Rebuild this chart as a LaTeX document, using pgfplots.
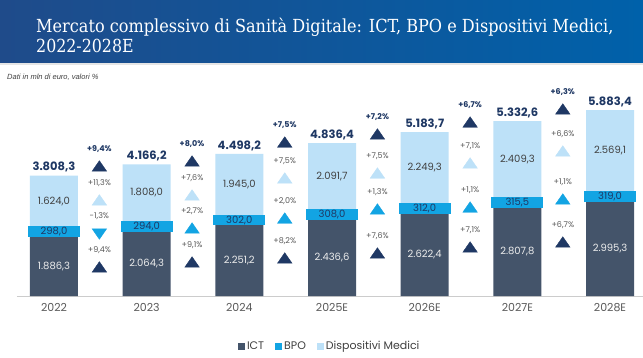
\documentclass[border=0pt]{standalone}
\usepackage{fontspec}
\setmainfont{Poppins}
\newfontfamily\slab{DejaVu Serif}
\newfontfamily\arial{Liberation Sans}
\usepackage{pgfplots}
\pgfplotsset{compat=1.18}
\definecolor{ict}{HTML}{44546A}
\definecolor{bpo}{HTML}{12A4E3}
\definecolor{dm}{HTML}{BDE1F8}
\definecolor{navy}{HTML}{1F3864}
\definecolor{hdrL}{HTML}{1F4B8A}
\definecolor{hdrR}{HTML}{0061AA}
\definecolor{tickgray}{HTML}{595959}
\definecolor{labgray}{HTML}{404040}
\begin{document}
\begin{tikzpicture}[x=1pt,y=1pt]
\path[use as bounding box, fill=white] (0,0) rectangle (643,357);
\shade[left color=hdrL, right color=hdrR] (0,294) rectangle (643,357);
\fill[gray!20] (0,292) rectangle (643,294);
\node[anchor=base west, text=white, inner sep=0] at (36,324) {\slab\fontsize{18}{20}\selectfont\scalebox{0.895}[1]{Mercato complessivo di Sanità Digitale: ICT, BPO e Dispositivi Medici,}};
\node[anchor=base west, text=white, inner sep=0] at (36,304) {\slab\fontsize{18}{20}\selectfont\scalebox{0.88}[1]{2022-2028E}};
\node[anchor=base west, text=labgray, inner sep=0] at (7,277) {\arial\itshape\fontsize{7.5}{9}\selectfont Dati in mln di euro, valori \%};

\begin{axis}[at={(16.9pt,61pt)}, anchor=south west, scale only axis,
  width=625.6pt, height=205.4pt, xmin=-0.4, xmax=6.35, ymin=0, ymax=6500,
  ybar stacked, bar width=48pt,
  axis x line=bottom, axis y line=none, x axis line style={-, draw=black!20},
  xtick={0,...,6}, xticklabels={2022,2023,2024,2025E,2026E,2027E,2028E},
  ytick=\empty, major tick length=0pt,
  xticklabel style={font=\fontsize{11}{12}\selectfont, text=tickgray, yshift=-4pt},
  clip=false,
  legend style={at={(0.5,-0.245)}, anchor=center, draw=none, fill=none,
    font=\fontsize{11}{12}\selectfont, text=labgray, legend columns=-1,
    /tikz/every even column/.append style={column sep=9pt}},
  legend image code/.code={\path[#1] (0pt,-3.5pt) rectangle (7pt,3.5pt);},
]
\addplot[fill=ict, draw=none] coordinates {(0,1886.3) (1,2064.3) (2,2251.2) (3,2436.6) (4,2622.4) (5,2807.8) (6,2995.3)};
\addplot[fill=bpo, draw=none] coordinates {(0,298.0) (1,294.0) (2,302.0) (3,308.0) (4,312.0) (5,315.5) (6,319.0)};
\addplot[fill=dm, draw=none] coordinates {(0,1624.0) (1,1808.0) (2,1945.0) (3,2091.7) (4,2249.3) (5,2409.3) (6,2569.1)};
\legend{ICT,BPO,Dispositivi Medici}
\end{axis}

\begin{axis}[at={(16.9pt,61pt)}, anchor=south west, scale only axis,
  width=625.6pt, height=205.4pt, xmin=-0.4, xmax=6.35, ymin=0, ymax=6500,
  hide axis, clip=false, point meta=explicit symbolic, nodes near coords]
% segment labels
\addplot[draw=none, mark=none, nodes near coords style={anchor=center, inner sep=0pt, text=white!93!black, font=\fontsize{10}{11}\selectfont}]
 coordinates {(0,943.15)[1.886,3] (1,1032.15)[2.064,3] (2,1125.6)[2.251,2] (3,1218.3)[2.436,6] (4,1311.2)[2.622,4] (5,1403.9)[2.807,8] (6,1497.65)[2.995,3]};
\addplot[draw=none, mark=none, nodes near coords style={anchor=center, fill=bpo, inner xsep=0pt, inner ysep=1pt, minimum width=52pt, text=navy, font=\fontsize{10}{11}\selectfont}]
 coordinates {(0,2035.3)[298,0] (1,2211.3)[294,0] (2,2402.2)[302,0] (3,2590.6)[308,0] (4,2778.4)[312,0] (5,2965.55)[315,5] (6,3154.8)[319,0]};
\addplot[draw=none, mark=none, nodes near coords style={anchor=center, inner sep=0pt, text=labgray, font=\fontsize{10}{11}\selectfont}]
 coordinates {(0,2996.3)[1.624,0] (1,3262.3)[1.808,0] (2,3525.7)[1.945,0] (3,3790.45)[2.091,7] (4,4059.05)[2.249,3] (5,4327.95)[2.409,3] (6,4598.85)[2.569,1]};
% totals
\addplot[draw=none, mark=none, nodes near coords style={anchor=south, inner sep=0pt, yshift=3pt, text=navy, font=\bfseries\fontsize{11.5}{12}\selectfont}]
 coordinates {(0,3808.3)[3.808,3] (1,4166.2)[4.166,2] (2,4498.2)[4.498,2] (3,4836.4)[4.836,4] (4,5183.7)[5.183,7] (5,5532.6)[5.332,6] (6,5883.4)[5.883,4]};
% growth triangles
\addplot[only marks, mark=triangle*, mark size=7pt, mark options={xscale=1.2}, color=navy, nodes near coords style={anchor=south, inner sep=0pt, yshift=15pt, text=navy, font=\bfseries\fontsize{8}{9}\selectfont}]
 coordinates {(0.49,4060)[+9,4\%] (1.49,4217)[+8,0\%] (2.49,4818)[+7,5\%] (3.49,5072)[+7,2\%] (4.49,5451)[+6,7\%] (5.49,5863)[+6,3\%]};
\addplot[only marks, mark=triangle*, mark size=7pt, mark options={xscale=1.2}, color=dm, nodes near coords style={anchor=south, inner sep=0pt, yshift=15pt, text=tickgray, font=\fontsize{8}{9}\selectfont}]
 coordinates {(0.49,2985)[+11,3\%] (1.49,3141)[+7,6\%] (2.49,3679)[+7,5\%] (3.49,3837)[+7,5\%] (4.49,4154)[+7,1\%] (5.49,4534)[+6,6\%]};
\addplot[only marks, mark=triangle*, mark size=7pt, mark options={xscale=1.2, rotate=180}, color=bpo, nodes near coords style={anchor=south, inner sep=0pt, yshift=12pt, text=tickgray, font=\fontsize{8}{9}\selectfont}]
 coordinates {(0.49,2017)[-1,3\%]};
\addplot[only marks, mark=triangle*, mark size=7pt, mark options={xscale=1.2}, color=bpo, nodes near coords style={anchor=south, inner sep=0pt, yshift=15pt, text=tickgray, font=\fontsize{8}{9}\selectfont}]
 coordinates {(1.49,2097)[+2,7\%] (2.49,2413)[+2,0\%] (3.49,2698)[+1,3\%] (4.49,2761)[+1,1\%] (5.49,3015)[+1,1\%]};
\addplot[only marks, mark=triangle*, mark size=7pt, mark options={xscale=1.2}, color=navy, nodes near coords style={anchor=south, inner sep=0pt, yshift=15pt, text=tickgray, font=\fontsize{8}{9}\selectfont}]
 coordinates {(0.49,865)[+9,4\%] (1.49,1021)[+9,1\%] (2.49,1148)[+8,2\%] (3.49,1306)[+7,6\%] (4.49,1496)[+7,1\%] (5.49,1654)[+6,7\%]};
\end{axis}
\end{tikzpicture}
\end{document}
